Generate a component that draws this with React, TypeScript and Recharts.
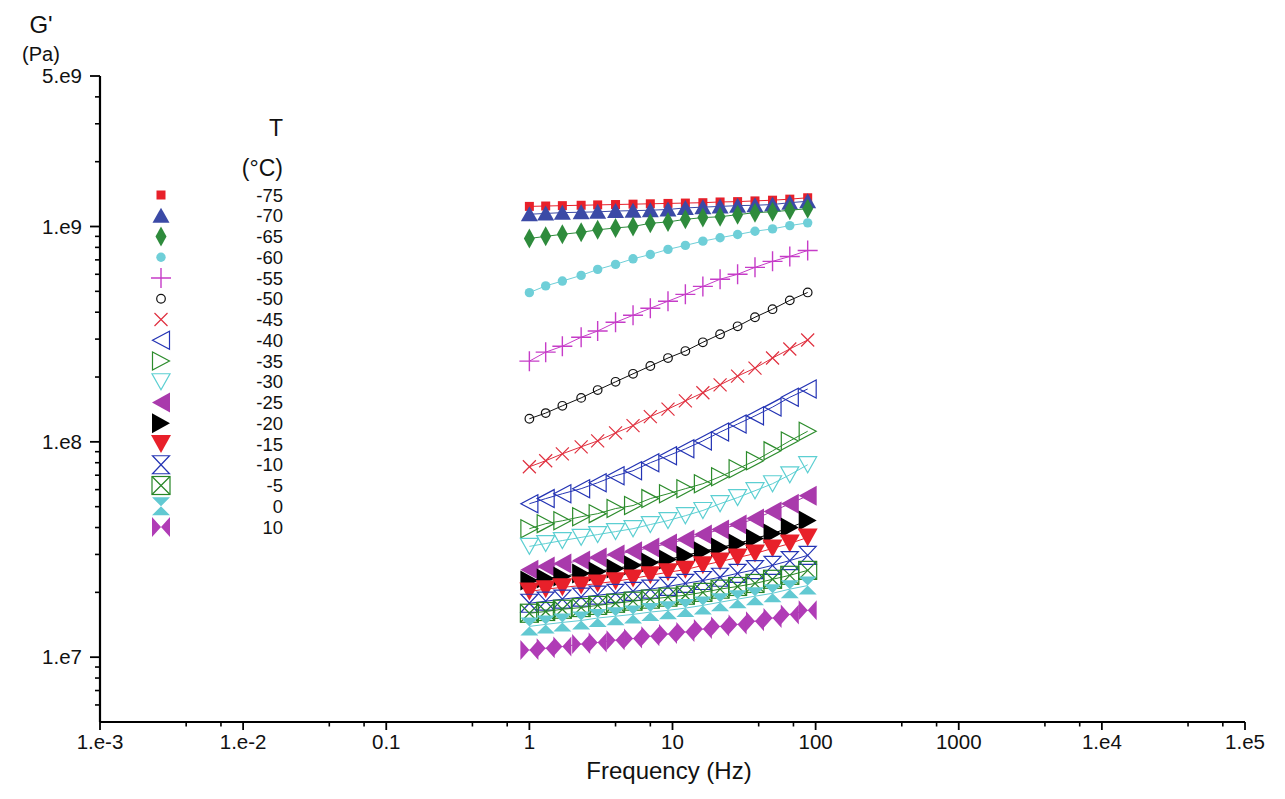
import { ScatterChart, Scatter, XAxis, YAxis, Customized } from "recharts";

// frequencies (Hz) shared by all temperature sweeps
const freq = [1, 1.3, 1.7, 2.3, 3, 4, 5.3, 7, 9.3, 12.3, 16.3, 21.5, 28.5, 37.7, 50, 66, 88];

// G' (Pa) per temperature
const gM75 = [1.24e9, 1.245e9, 1.25e9, 1.255e9, 1.26e9, 1.265e9, 1.27e9, 1.275e9, 1.28e9, 1.285e9, 1.29e9, 1.3e9, 1.305e9, 1.315e9, 1.325e9, 1.34e9, 1.36e9];
const gM70 = [1.14e9, 1.15e9, 1.16e9, 1.165e9, 1.17e9, 1.18e9, 1.185e9, 1.19e9, 1.2e9, 1.22e9, 1.23e9, 1.24e9, 1.25e9, 1.255e9, 1.265e9, 1.29e9, 1.31e9];
const gM65 = [8.8e8, 9.0e8, 9.2e8, 9.4e8, 9.65e8, 9.85e8, 1.0e9, 1.035e9, 1.05e9, 1.08e9, 1.1e9, 1.11e9, 1.135e9, 1.16e9, 1.17e9, 1.19e9, 1.21e9];
const gM60 = [4.93e8, 5.3e8, 5.58e8, 5.93e8, 6.32e8, 6.67e8, 7.08e8, 7.41e8, 7.83e8, 8.17e8, 8.55e8, 8.87e8, 9.18e8, 9.51e8, 9.75e8, 1.01e9, 1.04e9];
const gM55 = [2.37e8, 2.61e8, 2.78e8, 3.06e8, 3.27e8, 3.59e8, 3.87e8, 4.17e8, 4.5e8, 4.84e8, 5.27e8, 5.69e8, 6.0e8, 6.46e8, 6.89e8, 7.26e8, 7.74e8];
const gM50 = [1.28e8, 1.36e8, 1.47e8, 1.6e8, 1.74e8, 1.9e8, 2.07e8, 2.25e8, 2.45e8, 2.64e8, 2.9e8, 3.16e8, 3.44e8, 3.79e8, 4.13e8, 4.54e8, 4.94e8];
const gM45 = [7.66e7, 8.17e7, 8.8e7, 9.48e7, 1.01e8, 1.1e8, 1.19e8, 1.31e8, 1.42e8, 1.55e8, 1.69e8, 1.84e8, 2.02e8, 2.2e8, 2.45e8, 2.7e8, 2.97e8];
const gM40 = [5.16e7, 5.45e7, 5.74e7, 6.06e7, 6.46e7, 6.96e7, 7.34e7, 8.0e7, 8.61e7, 9.28e7, 1.01e8, 1.11e8, 1.21e8, 1.32e8, 1.45e8, 1.61e8, 1.76e8];
const gM35 = [3.95e7, 4.17e7, 4.3e7, 4.49e7, 4.64e7, 4.9e7, 5.06e7, 5.45e7, 5.74e7, 6.06e7, 6.39e7, 6.89e7, 7.5e7, 8.17e7, 9.08e7, 1.01e8, 1.12e8];
const gM30 = [3.27e7, 3.37e7, 3.48e7, 3.6e7, 3.71e7, 3.83e7, 3.95e7, 4.13e7, 4.31e7, 4.54e7, 4.8e7, 5.16e7, 5.51e7, 5.93e7, 6.39e7, 7.03e7, 7.83e7];
const gM25 = [2.55e7, 2.64e7, 2.72e7, 2.81e7, 2.9e7, 3.0e7, 3.1e7, 3.23e7, 3.37e7, 3.52e7, 3.71e7, 3.92e7, 4.13e7, 4.4e7, 4.75e7, 5.16e7, 5.62e7];
const gM20 = [2.27e7, 2.32e7, 2.37e7, 2.45e7, 2.5e7, 2.58e7, 2.67e7, 2.75e7, 2.84e7, 2.97e7, 3.1e7, 3.23e7, 3.37e7, 3.56e7, 3.75e7, 4.0e7, 4.31e7];
const gM15 = [2.02e7, 2.07e7, 2.11e7, 2.15e7, 2.2e7, 2.25e7, 2.32e7, 2.4e7, 2.48e7, 2.55e7, 2.67e7, 2.78e7, 2.9e7, 3.03e7, 3.2e7, 3.37e7, 3.6e7];
const gM10 = [1.78e7, 1.82e7, 1.86e7, 1.9e7, 1.94e7, 1.98e7, 2.02e7, 2.07e7, 2.13e7, 2.2e7, 2.27e7, 2.35e7, 2.45e7, 2.55e7, 2.67e7, 2.81e7, 2.97e7];
const gM5 = [1.6e7, 1.63e7, 1.67e7, 1.7e7, 1.74e7, 1.78e7, 1.82e7, 1.86e7, 1.9e7, 1.94e7, 2.0e7, 2.07e7, 2.13e7, 2.2e7, 2.3e7, 2.4e7, 2.53e7];
const gP0 = [1.39e7, 1.42e7, 1.45e7, 1.48e7, 1.52e7, 1.55e7, 1.58e7, 1.62e7, 1.65e7, 1.69e7, 1.74e7, 1.8e7, 1.86e7, 1.92e7, 1.98e7, 2.07e7, 2.15e7];
const gP10 = [1.08e7, 1.1e7, 1.12e7, 1.15e7, 1.17e7, 1.2e7, 1.22e7, 1.25e7, 1.28e7, 1.31e7, 1.35e7, 1.39e7, 1.42e7, 1.47e7, 1.52e7, 1.58e7, 1.65e7];

const temps = ["-75", "-70", "-65", "-60", "-55", "-50", "-45", "-40", "-35", "-30", "-25", "-20", "-15", "-10", "-5", "0", "10"];
const values = [gM75, gM70, gM65, gM60, gM55, gM50, gM45, gM40, gM35, gM30, gM25, gM20, gM15, gM10, gM5, gP0, gP10];
const markers = [
  "square", "triUp", "diamond", "dot", "plus", "ring", "cross", "oTriLeft", "oTriRight",
  "oTriDown", "triLeft", "triRight", "triDown", "oHourglass", "oBoxX", "hourglass", "bowtie",
];
const colors = [
  "#e8202a", "#3b4aa6", "#2e8b3c", "#6fcfd8", "#c63cc8", "#111111", "#e0303f", "#2434b4", "#2c8c2c",
  "#5ccfd2", "#a93aac", "#000000", "#e8202a", "#2434b4", "#268526", "#62c9d2", "#b03cb6",
];

// axis ticks
const xMajor = [0.001, 0.01, 0.1, 1, 10, 100, 1000, 10000, 100000];
const xLabels = ["1.e-3", "1.e-2", "0.1", "1", "10", "100", "1000", "1.e4", "1.e5"];
const xMinor = [0.004, 0.007, 0.04, 0.07, 0.4, 0.7, 4, 7, 40, 70, 400, 700, 4000, 7000, 40000, 70000];
const yMajor = [5e9, 1e9, 1e8, 1e7];
const yLabels = ["5.e9", "1.e9", "1.e8", "1.e7"];
const yMinor = [
  4e9, 3e9, 2e9,
  9e8, 8e8, 7e8, 6e8, 5e8, 4e8, 3e8, 2e8,
  9e7, 8e7, 7e7, 6e7, 5e7, 4e7, 3e7, 2e7,
  9e6, 8e6, 7e6, 6e6,
];

const FONT = "'Liberation Sans', Arial, sans-serif";
const W = 1269;
const H = 783;

function Marker({ kind, cx, cy, color }: { kind: string; cx: number; cy: number; color: string }) {
  const sw = 1.2;
  switch (kind) {
    case "square":
      return <rect x={cx - 4.5} y={cy - 4.5} width={9} height={9} fill={color} />;
    case "triUp":
      return <polygon points={`${cx - 8.5},${cy + 7} ${cx + 8.5},${cy + 7} ${cx},${cy - 8}`} fill={color} />;
    case "diamond":
      return <polygon points={`${cx},${cy - 10} ${cx + 5.5},${cy} ${cx},${cy + 10} ${cx - 5.5},${cy}`} fill={color} />;
    case "dot":
      return <circle cx={cx} cy={cy} r={4.7} fill={color} />;
    case "plus":
      return (
        <path d={`M${cx - 10},${cy}H${cx + 10}M${cx},${cy - 10}V${cy + 10}`} stroke={color} strokeWidth={1.4} fill="none" />
      );
    case "ring":
      return <circle cx={cx} cy={cy} r={4.3} fill="#fff" fillOpacity={0} stroke={color} strokeWidth={sw} />;
    case "cross":
      return (
        <path
          d={`M${cx - 6.5},${cy - 6.5}L${cx + 6.5},${cy + 6.5}M${cx - 6.5},${cy + 6.5}L${cx + 6.5},${cy - 6.5}`}
          stroke={color}
          strokeWidth={sw}
          fill="none"
        />
      );
    case "oTriLeft":
      return (
        <polygon points={`${cx + 8.5},${cy - 9} ${cx + 8.5},${cy + 9} ${cx - 8.5},${cy}`} fill="none" stroke={color} strokeWidth={sw} />
      );
    case "oTriRight":
      return (
        <polygon points={`${cx - 8.5},${cy - 9} ${cx - 8.5},${cy + 9} ${cx + 8.5},${cy}`} fill="none" stroke={color} strokeWidth={sw} />
      );
    case "oTriDown":
      return (
        <polygon points={`${cx - 9},${cy - 8} ${cx + 9},${cy - 8} ${cx},${cy + 8}`} fill="none" stroke={color} strokeWidth={sw} />
      );
    case "triLeft":
      return <polygon points={`${cx + 9},${cy - 10} ${cx + 9},${cy + 10} ${cx - 9},${cy}`} fill={color} />;
    case "triRight":
      return <polygon points={`${cx - 9},${cy - 10} ${cx - 9},${cy + 10} ${cx + 9},${cy}`} fill={color} />;
    case "triDown":
      return <polygon points={`${cx - 10},${cy - 9} ${cx + 10},${cy - 9} ${cx},${cy + 9}`} fill={color} />;
    case "oHourglass":
      return (
        <polygon
          points={`${cx - 8.5},${cy - 9} ${cx + 8.5},${cy - 9} ${cx - 8.5},${cy + 9} ${cx + 8.5},${cy + 9}`}
          fill="none"
          stroke={color}
          strokeWidth={sw}
        />
      );
    case "oBoxX":
      return (
        <g fill="none" stroke={color} strokeWidth={sw}>
          <rect x={cx - 9} y={cy - 9} width={18} height={18} />
          <path d={`M${cx - 9},${cy - 9}L${cx + 9},${cy + 9}M${cx - 9},${cy + 9}L${cx + 9},${cy - 9}`} />
        </g>
      );
    case "hourglass":
      return (
        <polygon points={`${cx - 9},${cy - 9} ${cx + 9},${cy - 9} ${cx - 9},${cy + 9} ${cx + 9},${cy + 9}`} fill={color} />
      );
    case "bowtie":
      return (
        <polygon points={`${cx - 9},${cy - 10} ${cx - 9},${cy + 10} ${cx + 9},${cy - 10} ${cx + 9},${cy + 10}`} fill={color} />
      );
    default:
      return null;
  }
}

function XTick(props: any) {
  const { x, y, payload } = props;
  const i = xMajor.indexOf(payload.value);
  if (i < 0) return <line x1={x} x2={x} y1={y} y2={y + 4.5} stroke="#000" strokeWidth={1.6} />;
  return (
    <g>
      <line x1={x} x2={x} y1={y} y2={y + 8} stroke="#000" strokeWidth={1.8} />
      <text x={x} y={y + 27} textAnchor="middle" fontSize={20.5} fontFamily={FONT} fill="#111">
        {xLabels[i]}
      </text>
    </g>
  );
}

function YTick(props: any) {
  const { x, y, payload } = props;
  const i = yMajor.indexOf(payload.value);
  if (i < 0) return <line x1={x - 5} x2={x} y1={y} y2={y} stroke="#000" strokeWidth={1.6} />;
  return (
    <g>
      <line x1={x - 10} x2={x} y1={y} y2={y} stroke="#000" strokeWidth={1.8} />
      <text x={x - 18} y={y + 7} textAnchor="end" fontSize={20.5} fontFamily={FONT} fill="#111">
        {yLabels[i]}
      </text>
    </g>
  );
}

function Overlay() {
  return (
    <g fontFamily={FONT} fill="#111">
      <text x={33} y={25} fontSize={24} textAnchor="middle">G'</text>
      <text x={33} y={53} fontSize={20} textAnchor="middle">(Pa)</text>
      <text x={661} y={771} fontSize={24} textAnchor="middle">Frequency (Hz)</text>
      <text x={275} y={128} fontSize={23} textAnchor="end">T</text>
      <text x={275} y={168} fontSize={23} textAnchor="end">(°C)</text>
      {temps.map((t, i) => (
        <g key={t}>
          <Marker kind={markers[i]} cx={153} cy={187 + 20.75 * i} color={colors[i]} />
          <text x={275} y={193.5 + 20.75 * i} fontSize={18.5} textAnchor="end">
            {t}
          </text>
        </g>
      ))}
    </g>
  );
}

export default function App() {
  return (
    <ScatterChart width={W} height={H} margin={{ top: 68, right: 32, bottom: 19, left: 20 }}>
      <XAxis
        dataKey="x"
        type="number"
        scale="log"
        domain={[0.001, 100000]}
        allowDataOverflow
        ticks={[...xMajor, ...xMinor]}
        interval={0}
        tick={<XTick />}
        tickLine={false}
        tickSize={0}
        tickMargin={0}
        height={50}
        axisLine={{ stroke: "#000", strokeWidth: 2.2 }}
      />
      <XAxis
        xAxisId="top"
        orientation="top"
        type="number"
        scale="log"
        domain={[0.001, 100000]}
        allowDataOverflow
        tick={false}
        tickLine={false}
        height={0}
        axisLine={{ stroke: "#000", strokeWidth: 2.2 }}
      />
      <YAxis
        dataKey="y"
        type="number"
        scale="log"
        domain={[5e6, 5e9]}
        allowDataOverflow
        ticks={[...yMajor, ...yMinor]}
        interval={0}
        tick={<YTick />}
        tickLine={false}
        tickSize={0}
        tickMargin={0}
        width={72}
        axisLine={{ stroke: "#000", strokeWidth: 2.2 }}
      />
      <YAxis
        yAxisId="right"
        orientation="right"
        type="number"
        scale="log"
        domain={[5e6, 5e9]}
        allowDataOverflow
        tick={false}
        tickLine={false}
        width={0}
        axisLine={{ stroke: "#000", strokeWidth: 1.6 }}
      />
      {temps.map((t, i) => (
        <Scatter
          key={t}
          name={t}
          data={freq.map((f, j) => ({ x: f, y: values[i][j] }))}
          line={{ stroke: colors[i], strokeWidth: 1 }}
          lineType="joint"
          isAnimationActive={false}
          shape={(p: any) => <Marker kind={markers[i]} cx={p.cx} cy={p.cy} color={colors[i]} />}
        />
      ))}
      <Customized component={<Overlay />} />
    </ScatterChart>
  );
}
